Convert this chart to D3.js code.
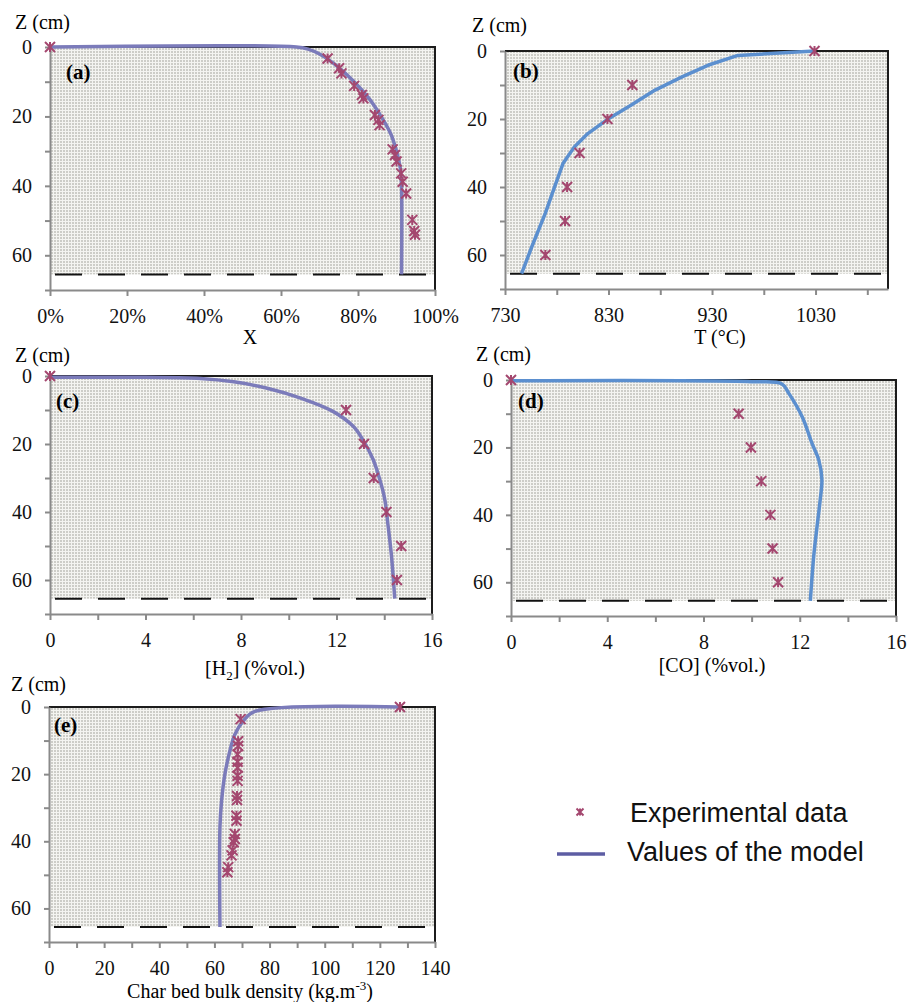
<!DOCTYPE html>
<html>
<head>
<meta charset="utf-8">
<script src="https://cdn.jsdelivr.net/npm/d3@7"></script>
<style>
  body { margin: 0; background: #fff; }
  svg { display: block; }
</style>
</head>
<body>
<div id="chart"></div>
<script>
// depth axis shared by all panels
const zTicks = [0, 10, 20, 30, 40, 50, 60, 70];
const bedBottom = 65.5;

// (a) conversion X
const convTicks = [0, 0.2, 0.4, 0.6, 0.8, 1];
const convModel = [[0, 0], [0.64, 0], [0.67, 0.6], [0.70, 2], [0.74, 5], [0.79, 10], [0.83, 15],
  [0.86, 20], [0.885, 25], [0.90, 30], [0.91, 35], [0.913, 40], [0.913, 65.5]];
const convExp = [[0, 0], [0.721, 3.3], [0.751, 6.1], [0.757, 7.6], [0.79, 11.2], [0.81, 13.8],
  [0.814, 14.8], [0.844, 19.6], [0.853, 21], [0.856, 22.5], [0.89, 29.5], [0.896, 31.1],
  [0.90, 33], [0.912, 36.4], [0.916, 38.8], [0.925, 42.2], [0.941, 49.8], [0.946, 53], [0.948, 54.1]];

// (b) temperature
const tempTicks = [730, 780, 830, 880, 930, 980, 1030, 1080];
const tempModel = [[1029, 0], [955, 1.3], [926, 4.2], [901, 7.6], [875, 11.5], [852, 15.9],
  [830, 19.9], [810, 24.3], [797, 28.2], [786, 33.1], [778, 39.9], [769, 47.7], [756, 57.5], [746, 65.5]];
const tempExp = [[1029, 0], [853, 10], [829, 20], [802, 30], [790, 40], [788, 50], [769, 60]];

// (c) H2
const gasTicks = [0, 2, 4, 6, 8, 10, 12, 14, 16];
const h2Model = [[0, 0.4], [4, 0.4], [6.3, 0.7], [7.7, 1.7], [9.1, 3.6], [10.5, 6.5], [11.85, 10.4],
  [12.7, 14.8], [13.1, 18.7], [13.53, 24.5], [13.81, 30.4], [14.02, 36.2], [14.16, 44], [14.3, 52.7], [14.44, 65.5]];
const h2Exp = [[0, 0], [12.4, 10], [13.15, 20], [13.56, 30], [14.09, 40], [14.71, 50], [14.53, 60]];

// (d) CO
const coModel = [[0, 0.2], [10.15, 0.5], [11.26, 1.2], [11.54, 3.9], [12.1, 10.9], [12.51, 18.8],
  [12.79, 23.7], [12.92, 29.6], [12.85, 35.5], [12.72, 43.4], [12.58, 52.3], [12.44, 65.5]];
const coExp = [[0, 0], [9.46, 10], [9.97, 20], [10.4, 30], [10.78, 40], [10.87, 50], [11.1, 60]];

// (e) char bed bulk density
const densTicks = [0, 10, 20, 30, 40, 50, 60, 70, 80, 90, 100, 110, 120, 130, 140];
const densModel = [[127, 0], [74.7, 1.3], [70.4, 4.2], [67.4, 8.2], [65.6, 13.1], [63.8, 20],
  [62.6, 27.9], [62, 35.8], [62, 65.5]];
const densExp = [[127.3, 0], [69.5, 3.6], [68.6, 10.2], [68.6, 11.6], [68.4, 14.1], [68.4, 16.3],
  [68.4, 18.1], [68.4, 20.5], [68.4, 22], [68.2, 26.5], [68.2, 27.7], [68, 32.4], [68, 33.9],
  [67.4, 37.8], [67.4, 39.3], [67, 40.3], [66.6, 42.7], [66.2, 44.2], [65, 47.7], [64.7, 49.2]];

const legendLabels = ['Experimental data', 'Values of the model'];

const purple = '#7b7bba';
const blue = '#5b8fcf';
const markColor = '#a4476f';
const serif = '"Liberation Serif", "Times New Roman", serif';

const panels = [
  { tag: '(a)', box: [50, 435, 47, 290], dom: [0, 1], ticks: convTicks, show: d => true,
    fmt: d3.format('.0%'), model: convModel, exp: convExp, color: purple, smooth: true,
    tagPos: [66, 79], zPos: [15, 29], title: 'X', titleX: 250, titleY: 344 },
  { tag: '(b)', box: [505, 888, 51, 289], dom: [730, 1100], ticks: tempTicks, show: d => (d - 730) % 100 === 0,
    fmt: d => d, model: tempModel, exp: tempExp, color: blue, smooth: false,
    tagPos: [513, 78], zPos: [472, 32], title: 'T (°C)', titleX: 720, titleY: 344 },
  { tag: '(c)', box: [50, 432, 376, 614], dom: [0, 16], ticks: gasTicks, show: d => d % 4 === 0,
    fmt: d => d, model: h2Model, exp: h2Exp, color: purple, smooth: true,
    tagPos: [56, 408], zPos: [15, 362], title: 'h2', titleX: 255, titleY: 675 },
  { tag: '(d)', box: [511, 896, 380, 616], dom: [0, 16], ticks: gasTicks, show: d => d % 4 === 0,
    fmt: d => d, model: coModel, exp: coExp, color: blue, smooth: true,
    tagPos: [518, 408], zPos: [476, 361], title: '[CO] (%vol.)', titleX: 712, titleY: 672 },
  { tag: '(e)', box: [49, 435, 707, 942], dom: [0, 140], ticks: densTicks, show: d => d % 20 === 0,
    fmt: d => d, model: densModel, exp: densExp, color: purple, smooth: true,
    tagPos: [54, 732], zPos: [11, 691], title: 'dens', titleX: 250, titleY: 998 }
];

const svg = d3.select('#chart').append('svg')
  .attr('width', 907)
  .attr('height', 1002)
  .style('font-family', serif);

// dotted plot-area fill
const defs = svg.append('defs');
const pat = defs.append('pattern')
  .attr('id', 'dots')
  .attr('patternUnits', 'userSpaceOnUse')
  .attr('width', 3)
  .attr('height', 3);
pat.append('rect').attr('width', 3).attr('height', 3).attr('fill', '#f4f4f1');
pat.append('rect').attr('width', 2).attr('height', 2).attr('fill', '#cdcdc8');

function star(s) {
  return `M${-s},${-s}L${s},${s}M${-s},${s}L${s},${-s}M0,${-s}L0,${s}`;
}

panels.forEach(p => {
  const [left, right, top, bottom] = p.box;
  const x = d3.scaleLinear().domain(p.dom).range([left, right]);
  const y = d3.scaleLinear().domain([0, 70]).range([top, bottom]);
  const g = svg.append('g');

  g.append('rect')
    .attr('x', left)
    .attr('y', top)
    .attr('width', right - left)
    .attr('height', y(bedBottom) - top)
    .attr('fill', 'url(#dots)');

  // bed bottom
  g.append('line')
    .attr('x1', left + 5)
    .attr('x2', right)
    .attr('y1', y(bedBottom))
    .attr('y2', y(bedBottom))
    .attr('stroke', '#111')
    .attr('stroke-width', 2)
    .attr('stroke-dasharray', '27 16');

  // top and right frame
  g.append('path')
    .attr('d', `M${left},${top}H${right}V${bottom}`)
    .attr('fill', 'none')
    .attr('stroke', '#1c1c1c')
    .attr('stroke-width', 2);

  const yAxis = g.append('g')
    .attr('transform', `translate(${left},0)`)
    .call(d3.axisLeft(y).tickValues(zTicks).tickSize(5).tickSizeOuter(0).tickPadding(13)
      .tickFormat(d => d % 20 === 0 ? d : ''));

  const xAxis = g.append('g')
    .attr('transform', `translate(0,${bottom})`)
    .call(d3.axisBottom(x).tickValues(p.ticks).tickSize(6).tickSizeOuter(0).tickPadding(13)
      .tickFormat(d => p.show(d) ? p.fmt(d) : ''));

  [xAxis, yAxis].forEach(a => {
    a.attr('font-family', null);
    a.select('.domain').attr('stroke', '#8a8a8a').attr('stroke-width', 2);
    a.selectAll('.tick line').attr('stroke', '#8a8a8a').attr('stroke-width', 2);
    a.selectAll('.tick text').attr('fill', '#111').style('font-size', '20px').style('font-family', serif);
  });

  const line = d3.line()
    .x(d => x(d[0]))
    .y(d => y(d[1]))
    .curve(p.smooth ? d3.curveCatmullRom.alpha(0.5) : d3.curveLinear);

  g.append('path')
    .datum(p.model)
    .attr('d', line)
    .attr('fill', 'none')
    .attr('stroke', p.color)
    .attr('stroke-width', 3.5)
    .attr('stroke-linejoin', 'round');

  g.selectAll('.mark')
    .data(p.exp)
    .enter().append('path')
    .attr('class', 'mark')
    .attr('transform', d => `translate(${x(d[0])},${y(d[1])})`)
    .attr('d', star(5))
    .attr('fill', 'none')
    .attr('stroke', markColor)
    .attr('stroke-width', 2);

  g.append('text')
    .attr('x', p.tagPos[0])
    .attr('y', p.tagPos[1])
    .style('font-size', '21px')
    .style('font-weight', 'bold')
    .text(p.tag);

  g.append('text')
    .attr('x', p.zPos[0])
    .attr('y', p.zPos[1])
    .style('font-size', '20px')
    .text('Z (cm)');

  const t = g.append('text')
    .attr('x', p.titleX)
    .attr('y', p.titleY)
    .attr('text-anchor', 'middle')
    .style('font-size', '20px');
  if (p.title === 'h2') {
    t.append('tspan').text('[H');
    t.append('tspan').attr('dy', 5).style('font-size', '13px').text('2');
    t.append('tspan').attr('dy', -5).text('] (%vol.)');
  } else if (p.title === 'dens') {
    t.append('tspan').text('Char bed bulk density (kg.m');
    t.append('tspan').attr('dy', -8).style('font-size', '13px').text('-3');
    t.append('tspan').attr('dy', 8).text(')');
  } else {
    t.text(p.title);
  }
});

// legend
const leg = svg.append('g').style('font-family', '"Liberation Sans", Arial, sans-serif');
leg.append('path')
  .attr('transform', 'translate(580,812)')
  .attr('d', star(3.5))
  .attr('fill', 'none')
  .attr('stroke', markColor)
  .attr('stroke-width', 2);
leg.append('line')
  .attr('x1', 557).attr('x2', 605)
  .attr('y1', 854).attr('y2', 854)
  .attr('stroke', '#5d5da3')
  .attr('stroke-width', 3.5);
leg.append('text').attr('x', 630).attr('y', 822).style('font-size', '27px').attr('fill', '#111').text(legendLabels[0]);
leg.append('text').attr('x', 627).attr('y', 861).style('font-size', '27px').attr('fill', '#111').text(legendLabels[1]);
</script>
</body>
</html>
